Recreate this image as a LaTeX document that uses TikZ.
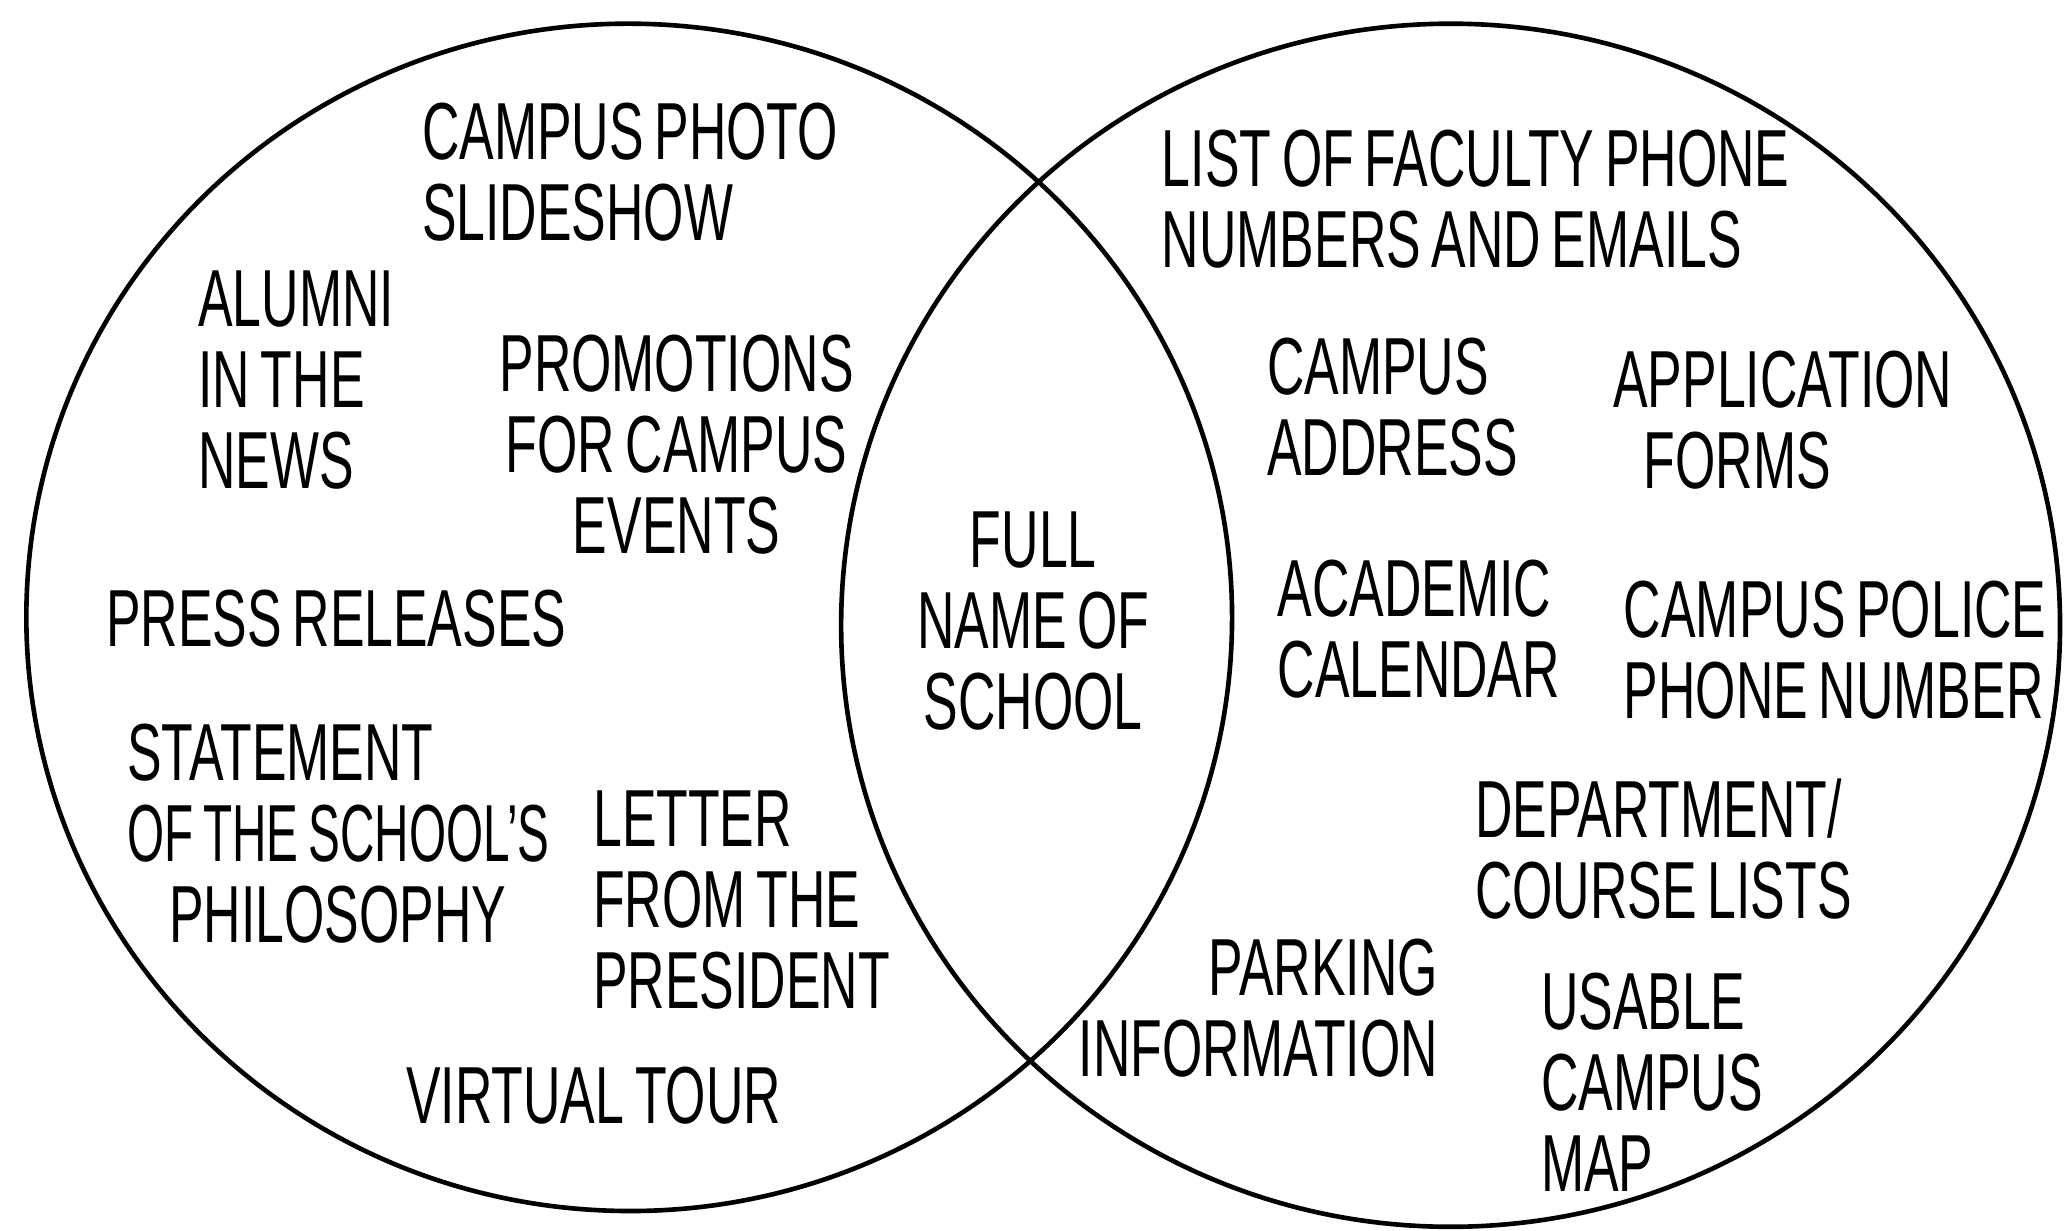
\documentclass[tikz,border=0pt]{standalone}
\usepackage{fontspec}
\setmainfont[FakeStretch=0.64, WordSpace=0.75]{Liberation Sans}
\usepackage{tikz}

\begin{document}
\begin{tikzpicture}[x=0.1mm, y=-0.1mm,
		entry/.style={inner sep=0pt, align=left, font=\fontsize{17.5}{17.5}\selectfont},
		ring/.style={line width=1pt}]
		\useasboundingbox (0,0) rectangle (1568,935);
		% the two sets
		\draw[ring, rotate around={-2:(478,469)}] (478,469) ellipse [x radius=45.8mm, y radius=45.1mm];
		\draw[ring] (1102,475) ellipse [x radius=46.3mm, y radius=45.7mm];
		% left set
		\node[entry, anchor=west] (photo) at (320,131) {CAMPUS PHOTO\\SLIDESHOW};
		\node[entry, anchor=west] (alumni) at (150,289) {ALUMNI\\IN THE\\NEWS};
		\node[entry, align=center] (promo) at (514,338) {PROMOTIONS\\FOR CAMPUS\\EVENTS};
		\node[entry, anchor=west] (press) at (80,470) {PRESS RELEASES};
		\node[entry, anchor=west] (philo) at (96,633) {STATEMENT\\\scalebox{0.92}[1]{OF THE SCHOOL'S}\\\hspace*{3.2mm}PHILOSOPHY};
		\node[entry, anchor=west] (letter) at (450,684) {LETTER\\FROM THE\\PRESIDENT};
		\node[entry, anchor=west] (tour) at (308,832) {VIRTUAL TOUR};
		% overlap
		\node[entry, align=center] (name) at (785,472) {FULL\\NAME OF\\SCHOOL};
		% right set
		\node[entry, anchor=west] (faculty) at (882,151) {LIST OF FACULTY PHONE\\NUMBERS AND EMAILS};
		\node[entry, anchor=west] (address) at (962,309) {CAMPUS\\ADDRESS};
		\node[entry, anchor=west] (forms) at (1225,319) {APPLICATION\\\hspace*{2.3mm}FORMS};
		\node[entry, anchor=west] (calendar) at (970,478) {ACADEMIC\\CALENDAR};
		\node[entry, anchor=west] (police) at (1233,494) {CAMPUS POLICE\\PHONE NUMBER};
		\node[entry, anchor=west] (courses) at (1120,645) {DEPARTMENT/\\COURSE LISTS};
		\node[entry, anchor=east, align=right] (parking) at (1093,766) {PARKING\\INFORMATION};
		\node[entry, anchor=west] (map) at (1170,822) {USABLE\\CAMPUS\\MAP};
	\end{tikzpicture}
\end{document}
